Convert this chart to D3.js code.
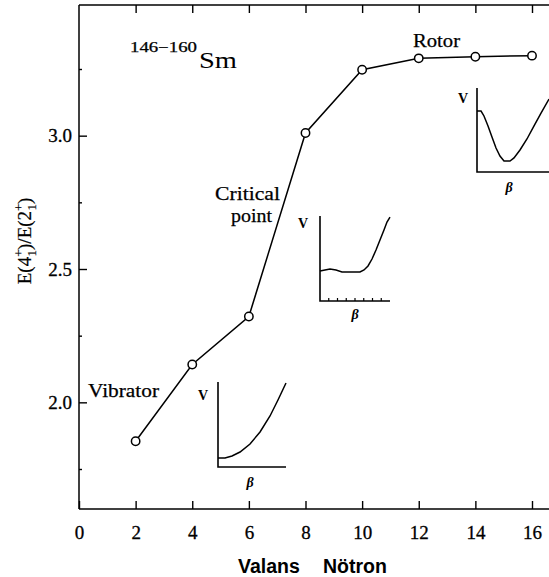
<!DOCTYPE html>
<html><head><meta charset="utf-8">
<script src="https://cdn.jsdelivr.net/npm/d3@7"></script>
<style>
body{margin:0;background:#fff}
svg{display:block}
.serif{font-family:"Liberation Serif","DejaVu Serif",serif;fill:#000}
</style>
</head><body>
<svg id="c" width="549" height="577"></svg>
<script>
// E(4+)/E(2+) ratio for Sm isotopes vs valence neutron number
const neutrons = [2, 4, 6, 8, 10, 12, 14, 16];
const ratio = [1.854, 2.142, 2.322, 3.01, 3.247, 3.29, 3.296, 3.30];
const xTicks = [0, 2, 4, 6, 8, 10, 12, 14, 16];
const yTicks = [2.0, 2.5, 3.0];
const yMinor = [1.75, 2.25, 2.75, 3.25];

// schematic potentials V(beta), both normalised to 0..1
const vibratorBeta = [0, 0.103, 0.206, 0.324, 0.471, 0.618, 0.765, 0.882, 1];
const vibratorV    = [0.106, 0.106, 0.129, 0.176, 0.271, 0.412, 0.6, 0.788, 0.988];
const criticalBeta = [0, 0.071, 0.143, 0.229, 0.314, 0.4, 0.5, 0.571, 0.629, 0.686, 0.743, 0.8, 0.857, 0.914, 0.957, 1];
const criticalV    = [0.353, 0.365, 0.376, 0.365, 0.341, 0.341, 0.341, 0.341, 0.365, 0.412, 0.494, 0.6, 0.718, 0.835, 0.929, 0.988];
const criticalTicks = [1, 2, 3, 4, 5, 6, 7].map(k => k / 8);
const rotorBeta = [0, 0.056, 0.097, 0.153, 0.208, 0.264, 0.319, 0.375, 0.458, 0.514, 0.597, 0.694, 0.792, 0.889, 1];
const rotorV    = [0.726, 0.726, 0.667, 0.548, 0.417, 0.286, 0.19, 0.131, 0.131, 0.167, 0.262, 0.393, 0.548, 0.702, 0.869];

const svg = d3.select("#c");
const W = 549;
const x = d3.scaleLinear([0, 16], [79, 532]);
const y = d3.scaleLinear([1.6, 3.49], [509, 5]);
const [yb, yt] = y.range();

// frame (open on the right)
const frame = svg.append("g").attr("stroke", "#000").attr("stroke-width", 1.5);
frame.append("line").attr("x1", x(0)).attr("x2", x(0)).attr("y1", yt).attr("y2", yb);
frame.append("line").attr("x1", x(0)).attr("x2", W).attr("y1", yt).attr("y2", yt);
frame.append("line").attr("x1", x(0)).attr("x2", W).attr("y1", yb).attr("y2", yb);

function styleAxis(g) {
  g.select(".domain").remove();
  g.selectAll(".tick line").attr("stroke", "#000").attr("stroke-width", 1.4);
  g.selectAll(".tick text").attr("class", "serif").attr("font-size", 19)
    .attr("fill", "#000").attr("stroke", "#000").attr("stroke-width", 0.3);
}

svg.append("g").attr("transform", `translate(0,${yb})`)
  .call(d3.axisBottom(x).tickValues(xTicks).tickFormat(d3.format("d"))
    .tickSizeInner(-8).tickSizeOuter(0).tickPadding(17))
  .call(styleAxis).attr("font-family", null);

svg.append("g").attr("transform", `translate(0,${yt})`)
  .call(d3.axisTop(x).tickValues(xTicks.slice(1)).tickFormat("")
    .tickSizeInner(-8).tickSizeOuter(0))
  .call(styleAxis);

svg.append("g").attr("transform", `translate(${x(0)},0)`)
  .call(d3.axisLeft(y).tickValues(yTicks).tickFormat(d3.format(".1f"))
    .tickSizeInner(-8).tickSizeOuter(0).tickPadding(7))
  .call(styleAxis).attr("font-family", null);

svg.append("g").attr("transform", `translate(${x(0)},0)`)
  .call(d3.axisLeft(y).tickValues(yMinor).tickFormat("")
    .tickSizeInner(-3).tickSizeOuter(0))
  .call(styleAxis);

// data line and open markers
const pts = neutrons.map((n, i) => [n, ratio[i]]);
svg.append("path").datum(pts)
  .attr("fill", "none").attr("stroke", "#000").attr("stroke-width", 1.5)
  .attr("d", d3.line().x(d => x(d[0])).y(d => y(d[1])));
svg.append("g").selectAll("circle").data(pts).join("circle")
  .attr("cx", d => x(d[0])).attr("cy", d => y(d[1])).attr("r", 4.2)
  .attr("fill", "#fff").attr("stroke", "#000").attr("stroke-width", 1.5);

// potential insets
function inset(box, betas, vs, ticks) {
  const bx = d3.scaleLinear([0, 1], [box.x0, box.x1]);
  const by = d3.scaleLinear([0, 1], [box.y1, box.y0]);
  const g = svg.append("g");
  g.append("path").attr("fill", "none").attr("stroke", "#000").attr("stroke-width", 1.6)
    .attr("d", `M${box.x0},${box.y0}V${box.y1}H${box.x1}`);
  if (ticks) {
    g.selectAll("line.t").data(ticks).join("line")
      .attr("x1", d => bx(d)).attr("x2", d => bx(d))
      .attr("y1", box.y1).attr("y2", box.y1 - 3)
      .attr("stroke", "#000").attr("stroke-width", 1.2);
  }
  g.append("path").datum(betas.map((b, i) => [b, vs[i]]))
    .attr("fill", "none").attr("stroke", "#000").attr("stroke-width", 1.5)
    .attr("d", d3.line().x(d => bx(d[0])).y(d => by(d[1])));
  g.append("text").attr("class", "serif").attr("font-weight", "bold").attr("font-size", 14)
    .attr("text-anchor", "middle").attr("x", box.vx).attr("y", box.vy).text("V");
  g.append("text").attr("class", "serif").attr("font-weight", "bold").attr("font-style", "italic")
    .attr("font-size", 14).attr("text-anchor", "middle").attr("x", box.bx).attr("y", box.by).text("β");
}
inset({x0: 218, x1: 286, y0: 382, y1: 467, vx: 203, vy: 400, bx: 250, by: 487}, vibratorBeta, vibratorV);
inset({x0: 320, x1: 390, y0: 216, y1: 301, vx: 303, vy: 228, bx: 355, by: 319}, criticalBeta, criticalV, criticalTicks);
inset({x0: 477, x1: 549, y0: 88, y1: 172, vx: 463, vy: 103, bx: 509, by: 192}, rotorBeta, rotorV);

// region labels
function label(txt, x0, x1, base, size, weight) {
  svg.append("text").attr("class", "serif").attr("font-size", size)
    .attr("stroke", "#000").attr("stroke-width", weight)
    .attr("x", x0).attr("y", base).attr("textLength", x1 - x0)
    .attr("lengthAdjust", "spacingAndGlyphs").text(txt);
}
label("Vibrator", 88, 159, 397, 19, 0.25);
label("Critical", 215, 280, 200, 19, 0.25);
label("point", 231, 272, 222, 19, 0.25);
label("Rotor", 413, 460, 47, 19, 0.25);

// nucleus label
label("146\u2212160", 130, 197, 52, 14, 0.25);
label("Sm", 199, 237, 68, 24, 0);

// y-axis title
const yl = svg.append("text").attr("class", "serif").attr("font-size", 19)
  .attr("stroke", "#000").attr("stroke-width", 0.2)
  .attr("transform", "translate(31,241) rotate(-90)").attr("text-anchor", "middle");
yl.append("tspan").text("E(4");
yl.append("tspan").attr("font-size", 13).attr("dy", -8).text("+");
yl.append("tspan").attr("font-size", 13).attr("dx", -7).attr("dy", 13).text("1");
yl.append("tspan").attr("dy", -5).text(")/E(2");
yl.append("tspan").attr("font-size", 13).attr("dy", -8).text("+");
yl.append("tspan").attr("font-size", 13).attr("dx", -7).attr("dy", 13).text("1");
yl.append("tspan").attr("dy", -5).text(")");

// x-axis title
const sans = "Liberation Sans, Arial, sans-serif";
svg.append("text").attr("font-family", sans)
  .attr("font-weight", "bold").attr("font-size", 19.5).attr("x", 238).attr("y", 573).text("Valans");
svg.append("text").attr("font-family", sans)
  .attr("font-weight", "bold").attr("font-size", 19.5).attr("x", 323).attr("y", 573).text("Nötron");
</script>
</body></html>
